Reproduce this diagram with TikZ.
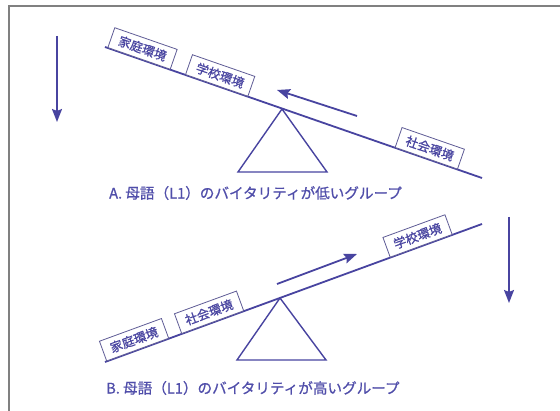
\documentclass[tikz,border=0pt]{standalone}
\usepackage{fontspec}
\newfontfamily\jp{Noto Sans CJK JP}
\newfontfamily\jpb[FakeBold=0.8]{Noto Sans CJK JP}
\usetikzlibrary{arrows.meta}
\definecolor{ink}{RGB}{72,68,160}
\definecolor{labelink}{RGB}{80,78,170}
\definecolor{boxline}{RGB}{95,92,150}
\definecolor{frame}{RGB}{128,128,128}
\tikzset{
  beam/.style={draw=ink, line width=1.8pt},
  fulcrum/.style={draw=ink, line width=1.4pt, line join=miter},
  push/.style={draw=ink, line width=1.8pt, -{Stealth[length=13pt,width=10pt,inset=2pt]}},
  envbox/.style={draw=boxline, line width=0.8pt, fill=white, text=ink, font=\jpb\fontsize{12.5}{13}\selectfont,
    minimum width=66pt, minimum height=21pt, inner sep=2pt, sloped, anchor=south},
  grouplabel/.style={text=labelink, font=\jpb\fontsize{14.6}{16}\selectfont, anchor=west, inner sep=0pt}
}
\begin{document}
\begin{tikzpicture}[x=1pt,y=1pt]
\useasboundingbox (0,0) rectangle (560,411);
\fill[white] (0,0) rectangle (560,411);
% frame
\draw[frame, line width=1.4pt] (9,0) -- (9,405) -- (560,405);

% ---------- A ----------
\coordinate (A0) at (105,364);
\coordinate (A1) at (482,233);
\coordinate (Atop) at (282,302);
\coordinate (Abl) at (238,239);
\coordinate (Abr) at (327,239);
\draw[fulcrum] (Atop) -- (Abl) -- (Abr) -- cycle;
\draw[beam] (A0) -- (A1);
\path (A0) -- (A1)
  node[envbox, pos=0.09] (Ahome) {家庭環境}
  node[envbox, pos=0.296] (Aschool) {学校環境}
  node[envbox, pos=0.852] (Asociety) {社会環境};
\coordinate (AarS) at (357,295);
\coordinate (AarE) at (277,321);
\draw[push] (AarS) -- (AarE);
\coordinate (LdS) at (57,375);
\coordinate (LdE) at (57,289);
\draw[push] (LdS) -- (LdE);
\node[grouplabel] (Alabel) at (109,218) {A. 母語（L1）のバイタリティが低いグループ};

% ---------- B ----------
\coordinate (B0) at (105,49);
\coordinate (B1) at (482,187);
\coordinate (Btop) at (280,113);
\coordinate (Bbl) at (237,51);
\coordinate (Bbr) at (326,51);
\draw[fulcrum] (Btop) -- (Bbl) -- (Bbr) -- cycle;
\draw[beam] (B0) -- (B1);
\path (B0) -- (B1)
  node[envbox, pos=0.087] (Bhome) {家庭環境}
  node[envbox, pos=0.286] (Bsociety) {社会環境}
  node[envbox, pos=0.839] (Bschool) {学校環境};
\coordinate (BarS) at (277,127);
\coordinate (BarE) at (357,157);
\draw[push] (BarS) -- (BarE);
\coordinate (RdS) at (509,194);
\coordinate (RdE) at (509,108);
\draw[push] (RdS) -- (RdE);
\node[grouplabel] (Blabel) at (106,23) {B. 母語（L1）のバイタリティが高いグループ};
\end{tikzpicture}
\end{document}
